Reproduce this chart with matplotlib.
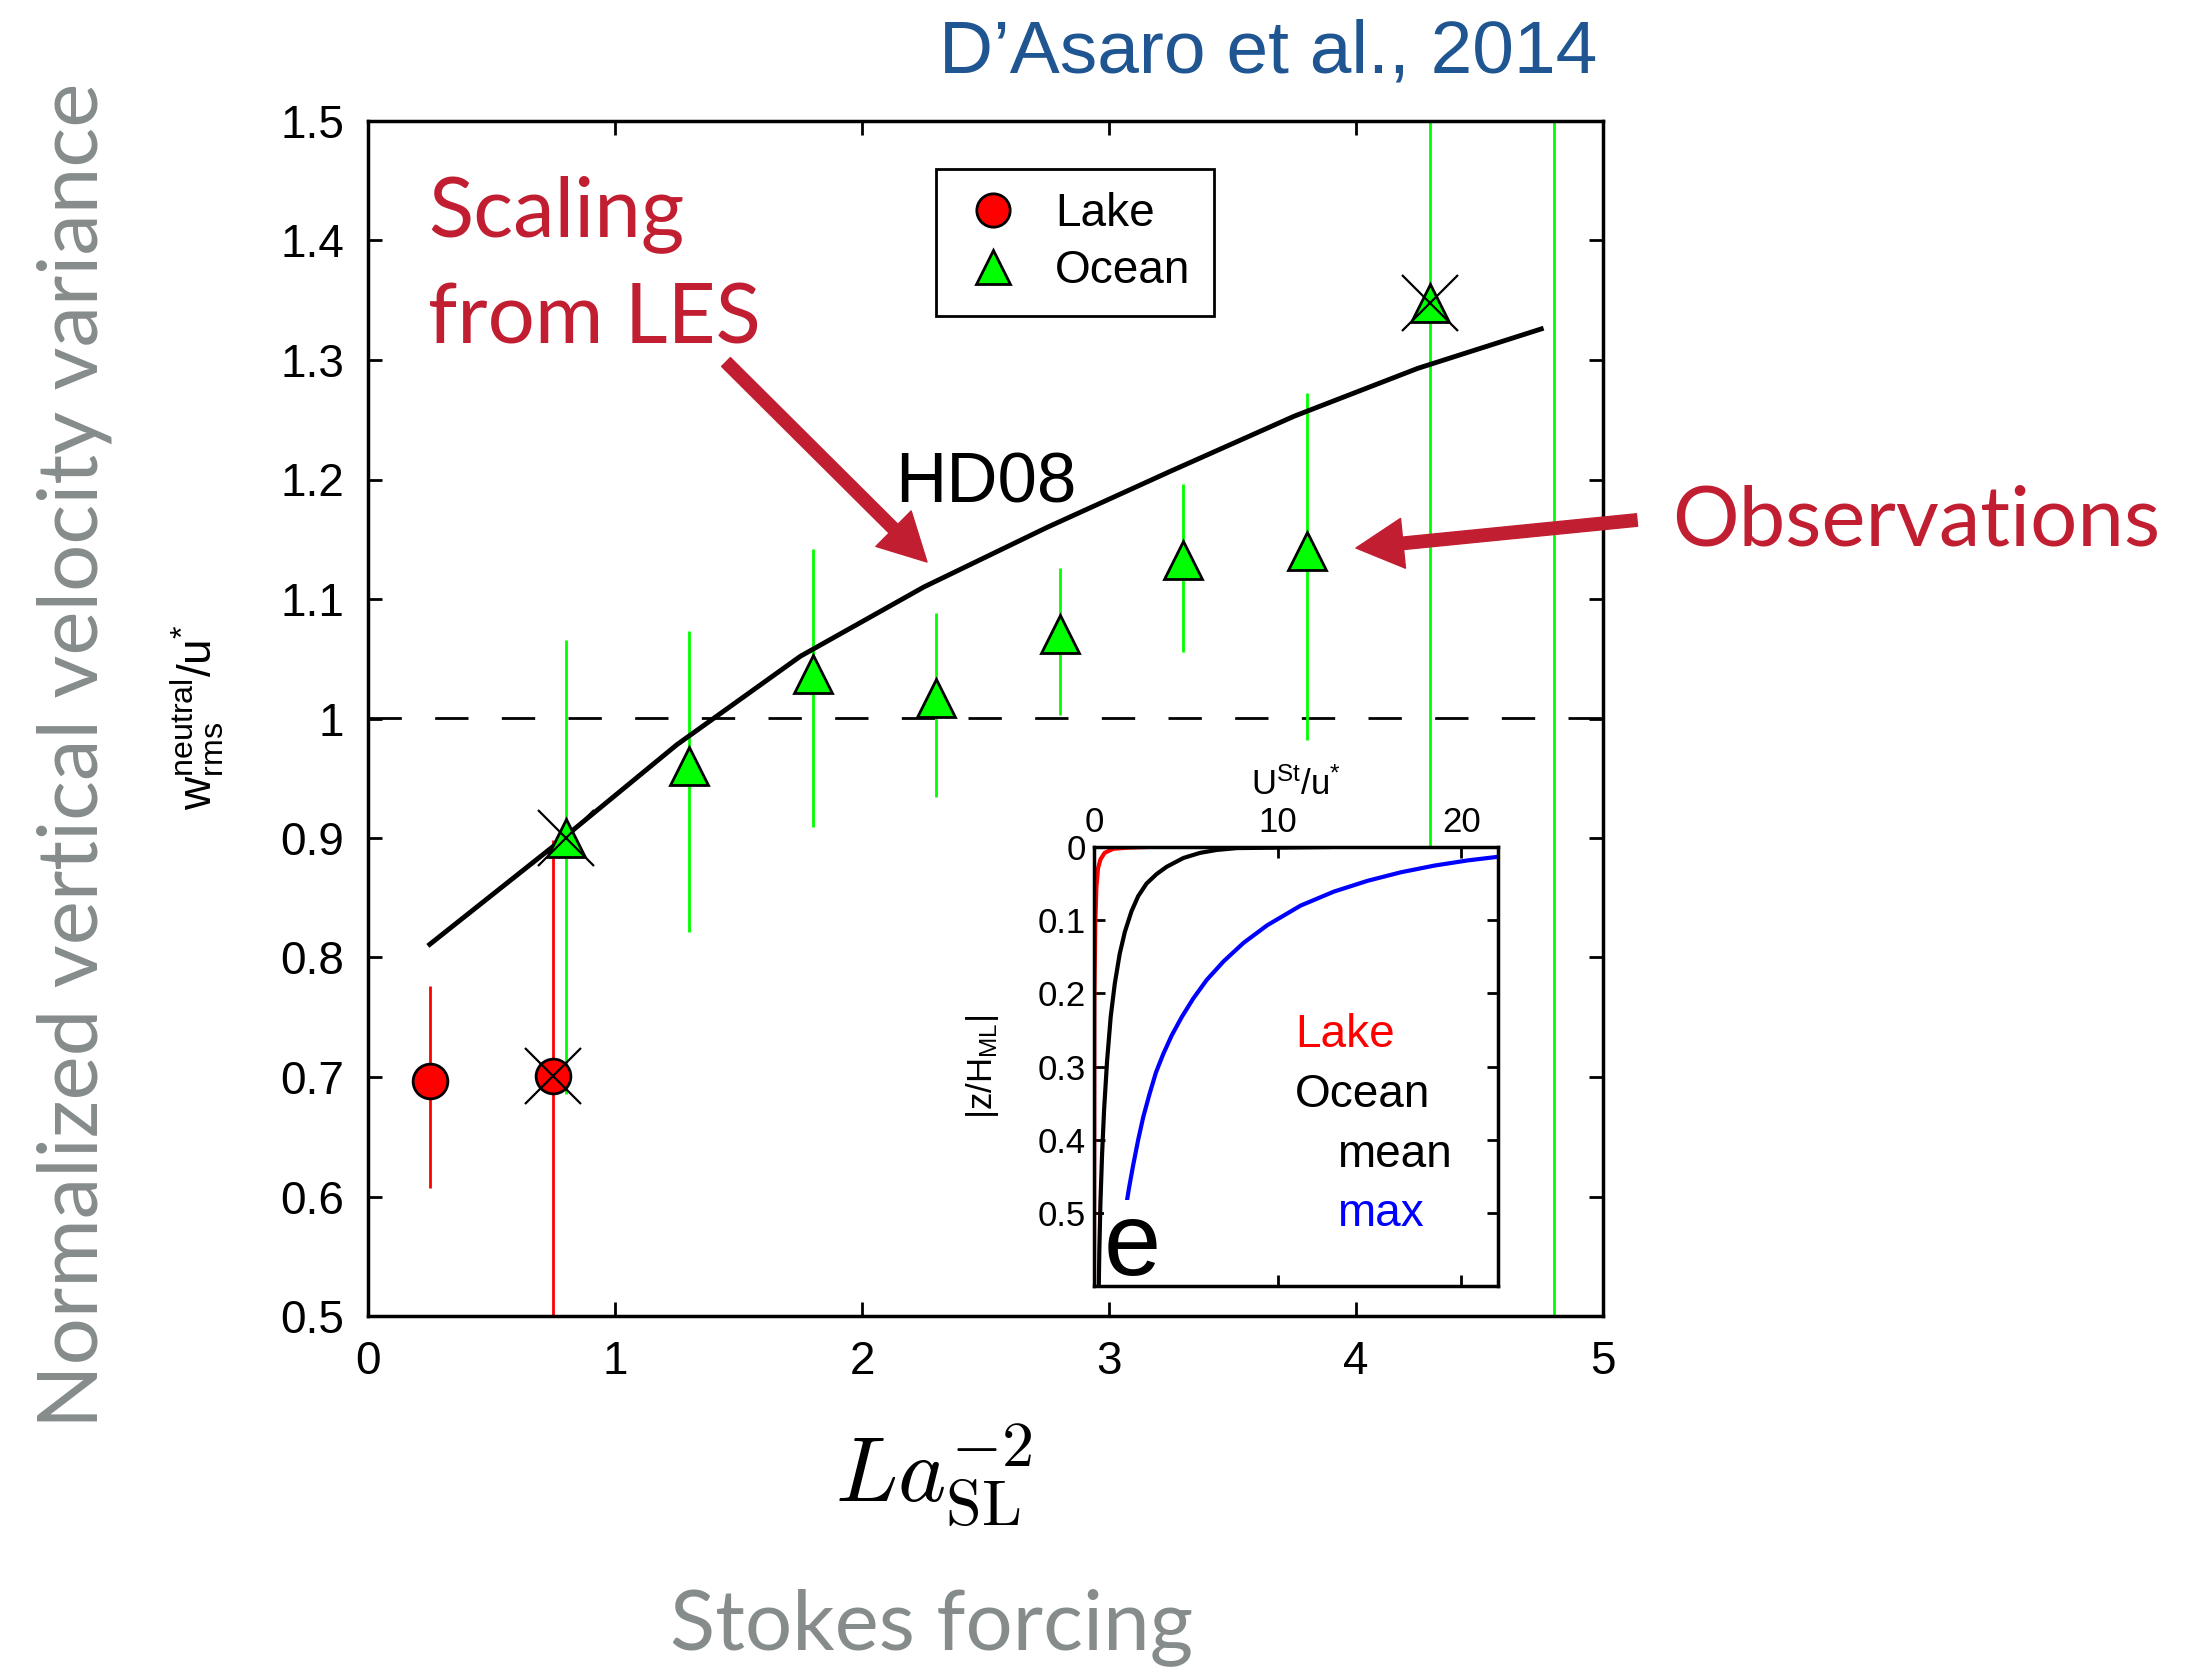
import numpy as np
import matplotlib
matplotlib.use("Agg")
import matplotlib.pyplot as plt
from matplotlib.patches import FancyArrowPatch

plt.rcParams['font.family'] = ['Liberation Sans', 'DejaVu Sans']
plt.rcParams['mathtext.fontset'] = 'custom'
plt.rcParams['mathtext.rm'] = 'Liberation Sans'
plt.rcParams['mathtext.it'] = 'Liberation Sans'

# --- data ---
lake_x = [0.25, 0.75]
lake_y = [0.697, 0.701]
lake_lo = [0.607, 0.40]
lake_hi = [0.776, 0.898]

ocean_x = [0.8, 1.3, 1.8, 2.3, 2.8, 3.3, 3.8, 4.3, 4.8]
ocean_y = [0.900, 0.960, 1.037, 1.017, 1.071, 1.133, 1.140, 1.348, np.nan]
ocean_lo = [0.686, 0.821, 0.909, 0.934, 1.003, 1.056, 0.982, 0.70, 0.30]
ocean_hi = [1.066, 1.073, 1.142, 1.088, 1.126, 1.196, 1.272, 1.70, 1.70]

crossed_x = [0.75, 0.8, 4.3]
crossed_y = [0.701, 0.900, 1.348]

hd08_x = [0.25, 0.75, 1.25, 1.75, 2.25, 2.75, 3.25, 3.75, 4.25, 4.75]
hd08_y = [0.811, 0.893, 0.978, 1.052, 1.110, 1.160, 1.207, 1.253, 1.293, 1.326]

# inset: Stokes drift profiles, U/u* vs |z/H|
lake_u = [2.86, 1.77, 1.04, 0.58, 0.35, 0.22, 0.13, 0.07, 0.02, 0.0]
lake_z = [0.0, 0.001, 0.0025, 0.008, 0.017, 0.029, 0.055, 0.105, 0.207, 0.6]
mean_u = [12.8, 7.78, 6.69, 5.78, 4.87, 3.96, 3.41, 2.86, 2.41, 2.04, 1.68, 1.40,
          1.13, 0.91, 0.71, 0.55, 0.44, 0.35, 0.29, 0.26]
mean_z = [0.0, 0.0015, 0.004, 0.008, 0.015, 0.027, 0.037, 0.050, 0.067, 0.088, 0.116, 0.146,
          0.187, 0.232, 0.293, 0.359, 0.420, 0.486, 0.552, 0.600]
max_u = [22.06, 20.36, 18.54, 16.72, 14.90, 13.07, 11.25, 9.43, 8.15, 7.06, 6.14, 5.41,
         4.78, 4.23, 3.77, 3.37, 3.01, 2.68, 2.41, 2.13, 1.91, 1.68, 1.22, 1.04, 0.95]
max_z = [0.0132, 0.0183, 0.0254, 0.0345, 0.0462, 0.0609, 0.0801, 0.1070, 0.1309, 0.1562,
         0.1816, 0.2069, 0.2323, 0.2576, 0.2830, 0.3084, 0.3388, 0.3692, 0.3997, 0.4352,
         0.4656, 0.5011, 0.5417, 0.5772, 0.600]

red = '#ff0000'
green = '#00ff00'
crimson = '#c21e32'
gray = '#868b8b'

W, H = 2203, 1670
fig = plt.figure(figsize=(W / 100, H / 100), dpi=100)
ax = fig.add_axes([368 / W, 1 - 1316 / H, 1235 / W, 1195 / H])

# error bars
ax.vlines(lake_x, lake_lo, lake_hi, color=red, lw=2, zorder=2)
ax.vlines(ocean_x, ocean_lo, ocean_hi, color=green, lw=2, zorder=2)
ax.axhline(1.0, color='k', lw=2, dashes=(12, 12), zorder=1)
ax.plot(hd08_x, hd08_y, color='k', lw=3.5, zorder=3)
ax.plot(lake_x, lake_y, 'o', ms=25, mfc=red, mec='k', mew=2, ls='none', zorder=4, label='Lake')
ax.plot(ocean_x, ocean_y, '^', ms=28, mfc=green, mec='k', mew=2, ls='none', zorder=4, label='Ocean')
ax.plot(crossed_x, crossed_y, 'x', ms=40, mec='k', mew=1.6, ls='none', zorder=5)

ax.set_xlim(0, 5)
ax.set_ylim(0.5, 1.5)
ax.set_xticks([0, 1, 2, 3, 4, 5])
ax.set_yticks(np.arange(0.5, 1.51, 0.1))
ax.set_yticklabels(['0.5', '0.6', '0.7', '0.8', '0.9', '1', '1.1', '1.2', '1.3', '1.4', '1.5'])
ax.tick_params(direction='in', length=10, width=2, top=True, right=True, labelsize=33, pad=17)
for s in ax.spines.values():
    s.set_linewidth(2.5)

leg = ax.legend(loc='upper left', bbox_to_anchor=(0.46, 0.96), borderaxespad=0,
                fontsize=33, fancybox=False, framealpha=1, edgecolor='k',
                handletextpad=0.6, handlelength=1.5, borderpad=0.5, labelspacing=0.3,
                numpoints=1)
leg.get_frame().set_linewidth(2)
for h in leg.legend_handles:
    h.set_markersize(24)

ax.text(2.134, 1.181, 'HD08', fontsize=51, color='k')

# inset
ax2 = fig.add_axes([1094 / W, 1 - 1286 / H, 404 / W, 439 / H])
ax2.plot(lake_u, lake_z, color=red, lw=3)
ax2.plot(mean_u, mean_z, color='k', lw=3)
ax2.plot(max_u, max_z, color='#0000ff', lw=3)
ax2.set_xlim(0, 22)
ax2.set_ylim(0.6, 0)
ax2.set_xticks([0, 10, 20])
ax2.set_yticks([0, 0.1, 0.2, 0.3, 0.4, 0.5])
ax2.set_yticklabels(['0', '0.1', '0.2', '0.3', '0.4', '0.5'])
ax2.tick_params(direction='in', length=8, width=2, top=True, bottom=True, right=True,
                labeltop=True, labelbottom=False, labelsize=25, pad=6)
ax2.xaxis.set_label_position('top')
ax2.set_xlabel(r'$\mathregular{U^{St}/u^{*}}$', fontsize=25, labelpad=8)
ax2.set_ylabel(r'$\mathregular{|z/H_{ML}|}$', fontsize=25)
ax2.yaxis.set_label_coords(-0.23, 0.5)
for s in ax2.spines.values():
    s.set_linewidth(2.5)
    s.set_zorder(5)
ax2.text(10.95, 0.257, 'Lake', color=red, fontsize=33, va='center')
ax2.text(10.95, 0.339, 'Ocean', color='k', fontsize=33, va='center')
ax2.text(13.23, 0.421, 'mean', color='k', fontsize=33, va='center')
ax2.text(13.23, 0.502, 'max', color='#0000ff', fontsize=33, va='center')
ax2.text(0.55, 0.585, 'e', fontsize=74, color='k', va='baseline', zorder=4,
         bbox=dict(facecolor='white', edgecolor='none', pad=0))

# labels
fig.text(197 / W, 1 - 717 / H, r'$\mathregular{w_{rms}^{neutral}/u^{*}}$', rotation=90,
         fontsize=33, ha='center', va='center')
fig.text(75 / W, 1 - 755 / H, 'Normalized vertical velocity variance', rotation=90,
         fontsize=60, color=gray, family='Lato', ha='center', va='center')
fig.text(934 / W, 1 - 1475 / H, r'$La_{\rm SL}^{-2}$', fontsize=66, ha='center', va='center',
         math_fontfamily='cm')
fig.text(932 / W, 1 - 1627 / H, 'Stokes forcing', fontsize=60, color=gray, family='Lato',
         ha='center', va='center')
fig.text(1597 / W, 1 - 53 / H, 'D\u2019Asaro et al., 2014', fontsize=54, color='#1f5590',
         ha='right', va='center')

fig.text(428 / W, 1 - 236 / H, 'Scaling', fontsize=60, color=crimson, family='Lato', va='baseline')
fig.text(428 / W, 1 - 343 / H, 'from LES', fontsize=60, color=crimson, family='Lato', va='baseline')
fig.text(1672 / W, 1 - 545 / H, 'Observations', fontsize=60, color=crimson, family='Lato', va='baseline')

arrow = dict(arrowstyle='simple,head_width=1.8,head_length=1.7,tail_width=0.45',
             color=crimson, mutation_scale=20, shrinkA=0, shrinkB=0)
fig.add_artist(FancyArrowPatch((726, H - 362), (927, H - 562), transform=None, **arrow))
fig.add_artist(FancyArrowPatch((1637, H - 520), (1356, H - 548), transform=None, **arrow))

fig.savefig('out.png', dpi=100)
